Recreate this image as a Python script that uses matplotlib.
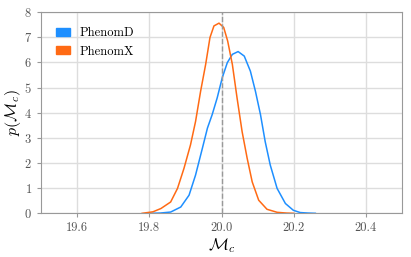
import matplotlib
matplotlib.use("Agg")
import matplotlib.pyplot as plt
from matplotlib.patches import Patch

plt.rcParams["font.family"] = "serif"
plt.rcParams["font.serif"] = ["cmr10"]
plt.rcParams["mathtext.fontset"] = "cm"
plt.rcParams["axes.formatter.use_mathtext"] = True

# PhenomD posterior
d_x = [19.80, 19.83, 19.859, 19.887, 19.910, 19.928, 19.947, 19.961, 19.974, 19.988,
       20.002, 20.016, 20.030, 20.046, 20.063, 20.080, 20.094, 20.108, 20.121, 20.135,
       20.154, 20.177, 20.199, 20.218, 20.24, 20.26]
d_y = [0.0, 0.01, 0.05, 0.25, 0.72, 1.52, 2.59, 3.39, 3.92, 4.59,
       5.39, 5.99, 6.32, 6.43, 6.25, 5.65, 4.85, 3.92, 2.85, 1.92,
       0.99, 0.39, 0.12, 0.03, 0.01, 0.0]

# PhenomX posterior
x_x = [19.78, 19.81, 19.832, 19.859, 19.878, 19.896, 19.914, 19.928, 19.942, 19.956,
       19.968, 19.979, 19.993, 20.006, 20.017, 20.030, 20.043, 20.057, 20.071, 20.085,
       20.103, 20.126, 20.154, 20.18, 20.20]
x_y = [0.0, 0.06, 0.19, 0.45, 0.99, 1.79, 2.72, 3.65, 4.85, 5.92,
       6.99, 7.45, 7.56, 7.39, 6.85, 5.92, 4.59, 3.25, 2.19, 1.25,
       0.52, 0.16, 0.04, 0.01, 0.0]

true_mc = 20.0
blue = "#1e8fff"
orange = "#ff6a14"

fig, ax = plt.subplots(figsize=(4.11, 2.57), dpi=100)
ax.plot(d_x, d_y, color=blue, lw=1.1)
ax.plot(x_x, x_y, color=orange, lw=1.1)
ax.axvline(true_mc, color="#999999", ls="--", lw=1.0)

ax.set_xlim(19.5, 20.5)
ax.set_ylim(0, 8)
ax.set_xticks([19.6, 19.8, 20.0, 20.2, 20.4])
ax.set_xticklabels(["19.6", "19.8", "20.0", "20.2", "20.4"])
ax.set_xlabel(r"$\mathcal{M}_c$", fontsize=12, labelpad=1)
ax.set_ylabel(r"$p(\mathcal{M}_c)$", fontsize=11.5, labelpad=1)
ax.grid(True, color="#dddddd", lw=1.0)
ax.set_axisbelow(True)
for s in ax.spines.values():
    s.set_color("#999999")
ax.tick_params(colors="#555555", labelsize=9, length=3, width=0.8)
ax.tick_params(axis="both", color="#999999")

handles = [Patch(color=blue, label="PhenomD"), Patch(color=orange, label="PhenomX")]
ax.legend(handles=handles, loc="upper left", frameon=False, fontsize=9,
          handlelength=1.1, handleheight=0.6, borderaxespad=0.8)

fig.subplots_adjust(left=0.1, right=0.978, top=0.953, bottom=0.17)
fig.savefig("out.png", dpi=100)
